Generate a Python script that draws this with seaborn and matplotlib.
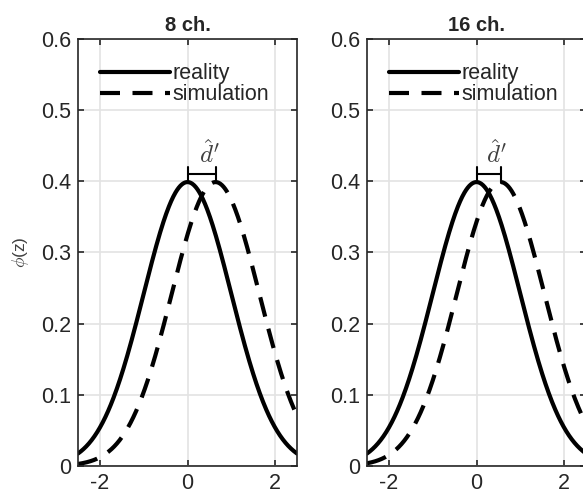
import numpy as np
import pandas as pd
import matplotlib
matplotlib.use("Agg")
import matplotlib.pyplot as plt
import seaborn as sns

# Data: panel titles, curve labels, Gaussian means (d') and sd
panels = ["8 ch.", "16 ch."]
series = ["reality", "simulation"]
reality_mean = [0.0, 0.0]
simulation_mean = [0.64, 0.55]
sd = [1.0, 1.0]
x_ticks = [-2, 0, 2]
y_ticks = [0, 0.1, 0.2, 0.3, 0.4, 0.5, 0.6]

sns.set_theme(style="white")
plt.rcParams["font.family"] = ["Liberation Sans", "DejaVu Sans"]
plt.rcParams["mathtext.fontset"] = "cm"

z = np.linspace(-2.5, 2.5, 401)


def pdf(x, m, s):
    return np.exp(-0.5 * ((x - m) / s) ** 2) / (s * np.sqrt(2 * np.pi))


fig = plt.figure(figsize=(5.83, 4.94), dpi=100)
lefts = [78 / 583, 367 / 583]
w = 219 / 583
b = 28 / 494
h = 427 / 494

for i, title in enumerate(panels):
    ax = fig.add_axes([lefts[i], b, w, h])
    df = pd.concat([
        pd.DataFrame({"z": z, "phi": pdf(z, reality_mean[i], sd[i]), "kind": series[0]}),
        pd.DataFrame({"z": z, "phi": pdf(z, simulation_mean[i], sd[i]), "kind": series[1]}),
    ])
    sns.lineplot(data=df, x="z", y="phi", style="kind", color="black",
                 linewidth=3, dashes={series[0]: "", series[1]: (4.8, 3)},
                 ax=ax, legend=True)
    ax.set_xlim(-2.5, 2.5)
    ax.set_ylim(0, 0.6)
    ax.set_xticks(x_ticks)
    ax.set_xticklabels(["-2", "0", "2"])
    ax.set_yticks(y_ticks)
    ax.set_yticklabels(["0", "0.1", "0.2", "0.3", "0.4", "0.5", "0.6"])
    ax.grid(True, color="#e3e3e3", linewidth=1.2)
    ax.set_axisbelow(True)
    for sp in ax.spines.values():
        sp.set_color("#262626")
        sp.set_linewidth(1.2)
    ax.tick_params(direction="in", length=4, width=1.2, color="#262626",
                   top=True, right=True, bottom=True, left=True,
                   labelsize=15.5, labelcolor="#262626", pad=5)
    ax.set_xlabel("")
    if i == 0:
        ax.set_ylabel(r"$\phi$(z)", fontsize=12.5, color="#404040", labelpad=7)
    else:
        ax.set_ylabel("")
    ax.set_title(title, fontsize=14.5, fontweight="bold", pad=6)
    leg = ax.legend(loc="upper left", bbox_to_anchor=(0.03, 0.978), frameon=False,
                    fontsize=15.5, handlelength=3.25, handletextpad=0.15,
                    labelspacing=0.0, borderpad=0.2)
    for t in leg.get_texts():
        t.set_color("#262626")
    # d' bracket
    yb = 0.410
    ax.plot([reality_mean[i], simulation_mean[i]], [yb, yb], color="black", lw=1.5)
    ax.plot([reality_mean[i]] * 2, [0.399, 0.420], color="black", lw=1.5)
    ax.plot([simulation_mean[i]] * 2, [0.397, 0.420], color="black", lw=1.5)
    ax.text((reality_mean[i] + simulation_mean[i]) / 2 + 0.17, 0.419, r"$\hat{d}'$",
            ha="center", va="bottom", fontsize=18, color="#404040")

fig.savefig("out.png", dpi=100)
